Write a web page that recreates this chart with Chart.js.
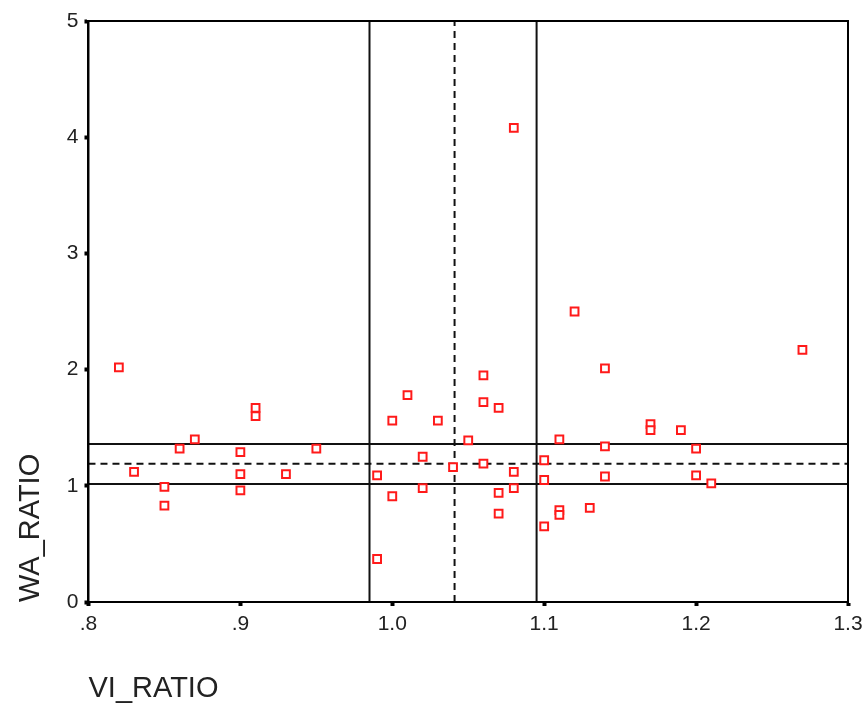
<!DOCTYPE html>
<html>
<head>
<meta charset="utf-8">
<script src="https://cdn.jsdelivr.net/npm/chart.js@4/dist/chart.umd.min.js"></script>
<style>
  html, body { margin: 0; padding: 0; background: #fff; }
  #wrap { width: 866px; height: 709px; }
</style>
</head>
<body>
<div id="wrap"><canvas id="scatter"></canvas></div>
<script>
// VI_RATIO / WA_RATIO pairs
const viRatio = [
  0.82, 0.91, 0.91, 0.87, 0.86, 0.90, 0.95, 0.83, 0.90, 0.93, 0.85, 0.90, 0.85,
  1.06, 1.01, 1.06, 1.07, 1.00, 1.03, 1.11, 1.05, 1.02, 1.10, 1.06, 1.04, 0.99,
  1.08, 1.10, 1.02, 1.08, 1.07, 1.00, 1.07, 1.11, 1.11, 1.13, 1.10, 0.99, 1.08,
  1.12, 1.27, 1.14, 1.17, 1.17, 1.19, 1.14, 1.20, 1.14, 1.20, 1.21
];
const waRatio = [
  2.02, 1.67, 1.60, 1.40, 1.32, 1.29, 1.32, 1.12, 1.10, 1.10, 0.99, 0.96, 0.83,
  1.95, 1.78, 1.72, 1.67, 1.56, 1.56, 1.40, 1.39, 1.25, 1.22, 1.19, 1.16, 1.09,
  1.12, 1.05, 0.98, 0.98, 0.94, 0.91, 0.76, 0.79, 0.75, 0.81, 0.65, 0.37, 4.08,
  2.50, 2.17, 2.01, 1.53, 1.48, 1.48, 1.34, 1.32, 1.08, 1.09, 1.02
];

// reference lines (solid = band limits, dashed = centre)
const xSolid = [0.985, 1.095];
const xDashed = [1.041];
const ySolid = [1.015, 1.36];
const yDashed = [1.19];

const xTicks = [0.8, 0.9, 1.0, 1.1, 1.2, 1.3];
const xTickLabels = ['.8', '.9', '1.0', '1.1', '1.2', '1.3'];
const yTicks = [0, 1, 2, 3, 4, 5];

const fontFam = '"Liberation Sans", Arial, sans-serif';

function vLine(x, dash) {
  return {
    type: 'scatter', showLine: true, pointRadius: 0,
    borderColor: '#111', borderWidth: 2, borderDash: dash,
    data: [{ x: x, y: 0 }, { x: x, y: 5 }]
  };
}
function hLine(y, dash) {
  return {
    type: 'scatter', showLine: true, pointRadius: 0,
    borderColor: '#111', borderWidth: 2, borderDash: dash,
    data: [{ x: 0.8, y: y }, { x: 1.3, y: y }]
  };
}

const refLines = [];
xSolid.forEach(v => refLines.push(vLine(v, [])));
xDashed.forEach(v => refLines.push(vLine(v, [7, 5])));
ySolid.forEach(v => refLines.push(hLine(v, [])));
yDashed.forEach(v => refLines.push(hLine(v, [7, 5])));

const points = viRatio.map((x, i) => ({ x: x, y: waRatio[i] }));

// full frame around the plot area
const frame = {
  id: 'frame',
  afterDraw(chart) {
    const a = chart.chartArea;
    const c = chart.ctx;
    c.save();
    c.strokeStyle = '#000';
    c.lineWidth = 2;
    c.strokeRect(a.left, a.top, a.right - a.left, a.bottom - a.top);
    c.restore();
  }
};

new Chart(document.getElementById('scatter'), {
  type: 'scatter',
  data: {
    datasets: [
      {
        data: points,
        pointStyle: 'rect',
        pointRadius: 5.5,
        pointBorderWidth: 2,
        pointBorderColor: '#ff1a1a',
        pointBackgroundColor: '#fff'
      }
    ].concat(refLines)
  },
  options: {
    responsive: true,
    maintainAspectRatio: false,
    animation: false,
    events: [],
    layout: { padding: { left: 14, right: 0, top: 21, bottom: 3 } },
    plugins: { legend: { display: false }, tooltip: { enabled: false } },
    scales: {
      x: {
        type: 'linear', min: 0.8, max: 1.3,
        afterBuildTicks(s) { s.ticks = xTicks.map(v => ({ value: v })); },
        afterFit(s) { s.paddingRight = 18; },
        ticks: {
          callback: (v) => xTickLabels[xTicks.findIndex(t => Math.abs(t - v) < 1e-9)],
          font: { family: fontFam, size: 21 }, color: '#222', padding: 6, maxRotation: 0
        },
        grid: { drawOnChartArea: false, tickLength: 4, tickWidth: 4, tickColor: '#000' },
        border: { display: true, color: '#000', width: 2 },
        title: {
          display: true, text: 'VI_RATIO', align: 'start',
          font: { family: fontFam, size: 29 }, color: '#222',
          padding: { top: 28, bottom: 0 }
        }
      },
      y: {
        type: 'linear', min: 0, max: 5,
        afterBuildTicks(s) { s.ticks = yTicks.map(v => ({ value: v })); },
        ticks: {
          font: { family: fontFam, size: 21 }, color: '#222', padding: 6
        },
        grid: { drawOnChartArea: false, tickLength: 4, tickWidth: 4, tickColor: '#000' },
        border: { display: true, color: '#000', width: 2 },
        title: {
          display: true, text: 'WA_RATIO', align: 'start',
          font: { family: fontFam, size: 29 }, color: '#222',
          padding: { top: 0, bottom: 12 }
        }
      }
    }
  },
  plugins: [frame]
});
</script>
</body>
</html>
